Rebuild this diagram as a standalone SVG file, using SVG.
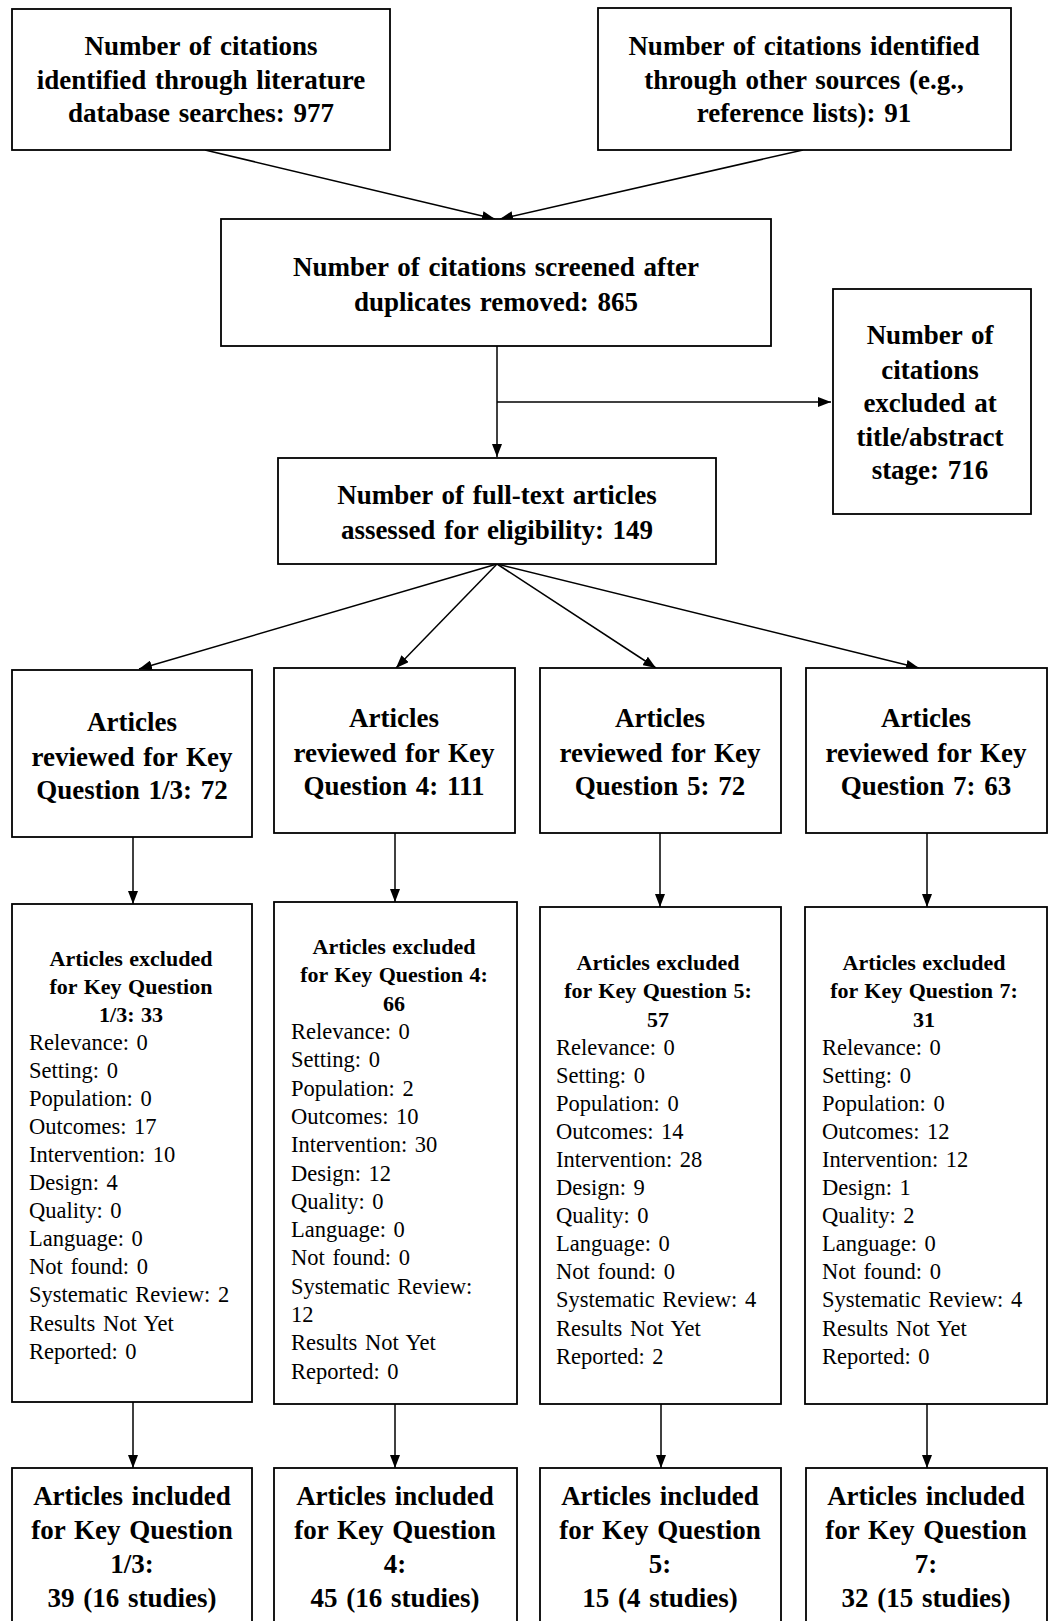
<svg xmlns="http://www.w3.org/2000/svg" width="1052" height="1621" viewBox="0 0 1052 1621">
<style>
.box{fill:#fff;stroke:#000;stroke-width:1.8}
.ln{fill:none;stroke:#000;stroke-width:1.5}
.t{font-family:"Liberation Serif","Times New Roman",serif;font-weight:bold;font-size:27px;text-anchor:middle;fill:#000;word-spacing:2px}
.h{font-family:"Liberation Serif","Times New Roman",serif;font-weight:bold;font-size:22px;text-anchor:middle;fill:#000;word-spacing:1px}
.b{font-family:"Liberation Serif","Times New Roman",serif;font-size:22.5px;fill:#000;word-spacing:2px}
</style>
<defs>
<marker id="ah" markerUnits="userSpaceOnUse" markerWidth="13" markerHeight="10" refX="13" refY="5" orient="auto">
<path d="M0,0 L13,5 L0,10 z" fill="#000"/>
</marker>
</defs>
<rect width="1052" height="1621" fill="#fff"/>

<g id="connectors">
<line class="ln" x1="205" y1="150" x2="495" y2="219" marker-end="url(#ah)"/>
<line class="ln" x1="803" y1="150" x2="500" y2="219" marker-end="url(#ah)"/>
<line class="ln" x1="497" y1="346" x2="497" y2="457" marker-end="url(#ah)"/>
<line class="ln" x1="497" y1="402" x2="831" y2="402" marker-end="url(#ah)"/>
<line class="ln" x1="497" y1="564" x2="139" y2="669" marker-end="url(#ah)"/>
<line class="ln" x1="497" y1="564" x2="396" y2="668" marker-end="url(#ah)"/>
<line class="ln" x1="497" y1="564" x2="656" y2="668" marker-end="url(#ah)"/>
<line class="ln" x1="497" y1="564" x2="919" y2="668" marker-end="url(#ah)"/>
<line class="ln" x1="133" y1="837" x2="133" y2="904" marker-end="url(#ah)"/>
<line class="ln" x1="395" y1="833" x2="395" y2="902" marker-end="url(#ah)"/>
<line class="ln" x1="660" y1="833" x2="660" y2="907" marker-end="url(#ah)"/>
<line class="ln" x1="927" y1="833" x2="927" y2="907" marker-end="url(#ah)"/>
<line class="ln" x1="133" y1="1402" x2="133" y2="1468" marker-end="url(#ah)"/>
<line class="ln" x1="395" y1="1404" x2="395" y2="1468" marker-end="url(#ah)"/>
<line class="ln" x1="661" y1="1404" x2="661" y2="1468" marker-end="url(#ah)"/>
<line class="ln" x1="927" y1="1404" x2="927" y2="1468" marker-end="url(#ah)"/>
</g>

<g id="n-database">
<rect class="box" x="12" y="9" width="378" height="141"/>
<text class="t" x="201" y="55">Number of citations</text>
<text class="t" x="201" y="89">identified through literature</text>
<text class="t" x="201" y="122">database searches: 977</text>
</g>

<g id="n-other">
<rect class="box" x="598" y="8" width="413" height="142"/>
<text class="t" x="804" y="55">Number of citations identified</text>
<text class="t" x="804" y="89">through other sources (e.g.,</text>
<text class="t" x="804" y="122">reference lists): 91</text>
</g>

<g id="n-screened">
<rect class="box" x="221" y="219" width="550" height="127"/>
<text class="t" x="496" y="276">Number of citations screened after</text>
<text class="t" x="496" y="311">duplicates removed: 865</text>
</g>

<g id="n-excluded-ta">
<rect class="box" x="833" y="289" width="198" height="225"/>
<text class="t" x="930" y="344">Number of</text>
<text class="t" x="930" y="379">citations</text>
<text class="t" x="930" y="412">excluded at</text>
<text class="t" x="930" y="446">title/abstract</text>
<text class="t" x="930" y="479">stage: 716</text>
</g>

<g id="n-fulltext">
<rect class="box" x="278" y="458" width="438" height="106"/>
<text class="t" x="497" y="504">Number of full-text articles</text>
<text class="t" x="497" y="539">assessed for eligibility: 149</text>
</g>

<g id="n-kq13">
<rect class="box" x="12" y="670" width="240" height="167"/>
<text class="t" x="132" y="731">Articles</text>
<text class="t" x="132" y="766">reviewed for Key</text>
<text class="t" x="132" y="799">Question 1/3: 72</text>
</g>
<g id="n-kq4">
<rect class="box" x="274" y="668" width="241" height="165"/>
<text class="t" x="394" y="727">Articles</text>
<text class="t" x="394" y="762">reviewed for Key</text>
<text class="t" x="394" y="795">Question 4: 111</text>
</g>
<g id="n-kq5">
<rect class="box" x="540" y="668" width="241" height="165"/>
<text class="t" x="660" y="727">Articles</text>
<text class="t" x="660" y="762">reviewed for Key</text>
<text class="t" x="660" y="795">Question 5: 72</text>
</g>
<g id="n-kq7">
<rect class="box" x="806" y="668" width="241" height="165"/>
<text class="t" x="926" y="727">Articles</text>
<text class="t" x="926" y="762">reviewed for Key</text>
<text class="t" x="926" y="795">Question 7: 63</text>
</g>

<g id="n-ex13">
<rect class="box" x="12" y="904" width="240" height="498"/>
<text class="h" x="131" y="966">Articles excluded</text>
<text class="h" x="131" y="994">for Key Question</text>
<text class="h" x="131" y="1022">1/3: 33</text>
<text class="b" x="29" y="1050">Relevance: 0</text>
<text class="b" x="29" y="1078">Setting: 0</text>
<text class="b" x="29" y="1106">Population: 0</text>
<text class="b" x="29" y="1134">Outcomes: 17</text>
<text class="b" x="29" y="1162">Intervention: 10</text>
<text class="b" x="29" y="1190">Design: 4</text>
<text class="b" x="29" y="1218">Quality: 0</text>
<text class="b" x="29" y="1246">Language: 0</text>
<text class="b" x="29" y="1274">Not found: 0</text>
<text class="b" x="29" y="1302">Systematic Review: 2</text>
<text class="b" x="29" y="1331">Results Not Yet</text>
<text class="b" x="29" y="1359">Reported: 0</text>
</g>
<g id="n-ex4">
<rect class="box" x="274" y="902" width="243" height="502"/>
<text class="h" x="394" y="954">Articles excluded</text>
<text class="h" x="394" y="982">for Key Question 4:</text>
<text class="h" x="394" y="1011">66</text>
<text class="b" x="291" y="1039">Relevance: 0</text>
<text class="b" x="291" y="1067">Setting: 0</text>
<text class="b" x="291" y="1096">Population: 2</text>
<text class="b" x="291" y="1124">Outcomes: 10</text>
<text class="b" x="291" y="1152">Intervention: 30</text>
<text class="b" x="291" y="1181">Design: 12</text>
<text class="b" x="291" y="1209">Quality: 0</text>
<text class="b" x="291" y="1237">Language: 0</text>
<text class="b" x="291" y="1265">Not found: 0</text>
<text class="b" x="291" y="1294">Systematic Review:</text>
<text class="b" x="291" y="1322">12</text>
<text class="b" x="291" y="1350">Results Not Yet</text>
<text class="b" x="291" y="1379">Reported: 0</text>
</g>
<g id="n-ex5">
<rect class="box" x="540" y="907" width="241" height="497"/>
<text class="h" x="658" y="970">Articles excluded</text>
<text class="h" x="658" y="998">for Key Question 5:</text>
<text class="h" x="658" y="1027">57</text>
<text class="b" x="556" y="1055">Relevance: 0</text>
<text class="b" x="556" y="1083">Setting: 0</text>
<text class="b" x="556" y="1111">Population: 0</text>
<text class="b" x="556" y="1139">Outcomes: 14</text>
<text class="b" x="556" y="1167">Intervention: 28</text>
<text class="b" x="556" y="1195">Design: 9</text>
<text class="b" x="556" y="1223">Quality: 0</text>
<text class="b" x="556" y="1251">Language: 0</text>
<text class="b" x="556" y="1279">Not found: 0</text>
<text class="b" x="556" y="1307">Systematic Review: 4</text>
<text class="b" x="556" y="1336">Results Not Yet</text>
<text class="b" x="556" y="1364">Reported: 2</text>
</g>
<g id="n-ex7">
<rect class="box" x="805" y="907" width="242" height="497"/>
<text class="h" x="924" y="970">Articles excluded</text>
<text class="h" x="924" y="998">for Key Question 7:</text>
<text class="h" x="924" y="1027">31</text>
<text class="b" x="822" y="1055">Relevance: 0</text>
<text class="b" x="822" y="1083">Setting: 0</text>
<text class="b" x="822" y="1111">Population: 0</text>
<text class="b" x="822" y="1139">Outcomes: 12</text>
<text class="b" x="822" y="1167">Intervention: 12</text>
<text class="b" x="822" y="1195">Design: 1</text>
<text class="b" x="822" y="1223">Quality: 2</text>
<text class="b" x="822" y="1251">Language: 0</text>
<text class="b" x="822" y="1279">Not found: 0</text>
<text class="b" x="822" y="1307">Systematic Review: 4</text>
<text class="b" x="822" y="1336">Results Not Yet</text>
<text class="b" x="822" y="1364">Reported: 0</text>
</g>

<g id="n-in13">
<rect class="box" x="12" y="1468" width="240" height="170"/>
<text class="t" x="132" y="1505">Articles included</text>
<text class="t" x="132" y="1539">for Key Question</text>
<text class="t" x="132" y="1573">1/3:</text>
<text class="t" x="132" y="1607">39 (16 studies)</text>
</g>
<g id="n-in4">
<rect class="box" x="274" y="1468" width="243" height="170"/>
<text class="t" x="395" y="1505">Articles included</text>
<text class="t" x="395" y="1539">for Key Question</text>
<text class="t" x="395" y="1573">4:</text>
<text class="t" x="395" y="1607">45 (16 studies)</text>
</g>
<g id="n-in5">
<rect class="box" x="540" y="1468" width="241" height="170"/>
<text class="t" x="660" y="1505">Articles included</text>
<text class="t" x="660" y="1539">for Key Question</text>
<text class="t" x="660" y="1573">5:</text>
<text class="t" x="660" y="1607">15 (4 studies)</text>
</g>
<g id="n-in7">
<rect class="box" x="806" y="1468" width="241" height="170"/>
<text class="t" x="926" y="1505">Articles included</text>
<text class="t" x="926" y="1539">for Key Question</text>
<text class="t" x="926" y="1573">7:</text>
<text class="t" x="926" y="1607">32 (15 studies)</text>
</g>
</svg>
